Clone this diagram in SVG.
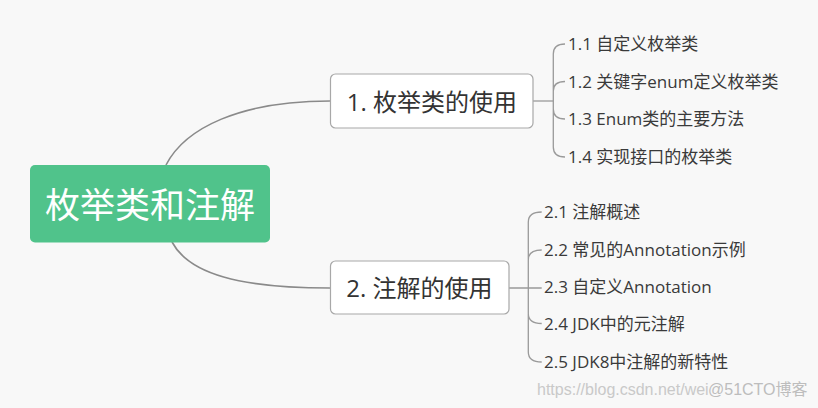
<svg xmlns="http://www.w3.org/2000/svg" width="818" height="408" viewBox="0 0 818 408">
<style>
text{font-family:"Open Sans","Noto Sans CJK SC","Microsoft YaHei",sans-serif;}
.conn{fill:none;stroke:#8a8a8a;stroke-width:1.6;}
.br{fill:none;stroke:#9a9a9a;stroke-width:1.3;}
.box{fill:#ffffff;stroke:#a8a8a8;stroke-width:1.2;}
.main{font-size:24px;fill:#333333;text-anchor:middle;}
.sub{font-size:17px;fill:#3a3a3a;}
.wm{font-family:"Liberation Sans","Noto Sans CJK SC",sans-serif;font-size:16px;fill:#c9c9c9;}
</style>
<rect width="818" height="408" fill="#f8f8f8"/>
<g id="connectors">
<path class="conn" d="M166,165 C185,128 240,101 330,101"/>
<path class="conn" d="M172,242 C189,274 240,288 330,288"/>
<path class="br" d="M533,101 H553.3"/>
<path class="br" d="M553.3,54 Q553.3,44 565,44 M553.3,54 V147 Q553.3,157 565,157 M553.3,91 Q553.3,81.5 565,81.5 M553.3,109 Q553.3,119 565,119"/>
<path class="br" d="M509,288 H541.7"/>
<path class="br" d="M528.3,222 Q528.3,212 541.7,212 M528.3,222 V352 Q528.3,362 541.7,362 M528.3,260 Q528.3,250 541.7,250 M528.3,313.5 Q528.3,323.5 541.7,323.5"/>
</g>
<g id="root">
<rect x="30" y="165" width="240" height="77.5" rx="5" fill="#50c38b"/>
<text x="150" y="218" style="font-size:35px;fill:#ffffff;text-anchor:middle;">枚举类和注解</text>
</g>
<g id="n1">
<rect class="box" x="330.5" y="74" width="202.5" height="54" rx="5"/>
<text class="main" x="432" y="111">1. 枚举类的使用</text>
</g>
<g id="n2">
<rect class="box" x="330.5" y="261" width="178.5" height="53" rx="5"/>
<text class="main" x="419.5" y="296.5">2. 注解的使用</text>
</g>
<g id="n1-1"><text class="sub" x="568" y="50">1.1 自定义枚举类</text></g>
<g id="n1-2"><text class="sub" x="568" y="87.5">1.2 关键字enum定义枚举类</text></g>
<g id="n1-3"><text class="sub" x="568" y="125">1.3 Enum类的主要方法</text></g>
<g id="n1-4"><text class="sub" x="568" y="163">1.4 实现接口的枚举类</text></g>
<g id="n2-1"><text class="sub" x="544" y="218">2.1 注解概述</text></g>
<g id="n2-2"><text class="sub" x="544" y="256">2.2 常见的Annotation示例</text></g>
<g id="n2-3"><text class="sub" x="544" y="293">2.3 自定义Annotation</text></g>
<g id="n2-4"><text class="sub" x="544" y="329.5">2.4 JDK中的元注解</text></g>
<g id="n2-5"><text class="sub" x="544" y="367.5">2.5 JDK8中注解的新特性</text></g>
<g id="watermark">
<text class="wm" x="537" y="395">https://blog.csdn.net/wei</text>
<text class="wm" x="708" y="395" style="fill:#bdbdbd;">@51CTO博客</text>
</g>
</svg>
